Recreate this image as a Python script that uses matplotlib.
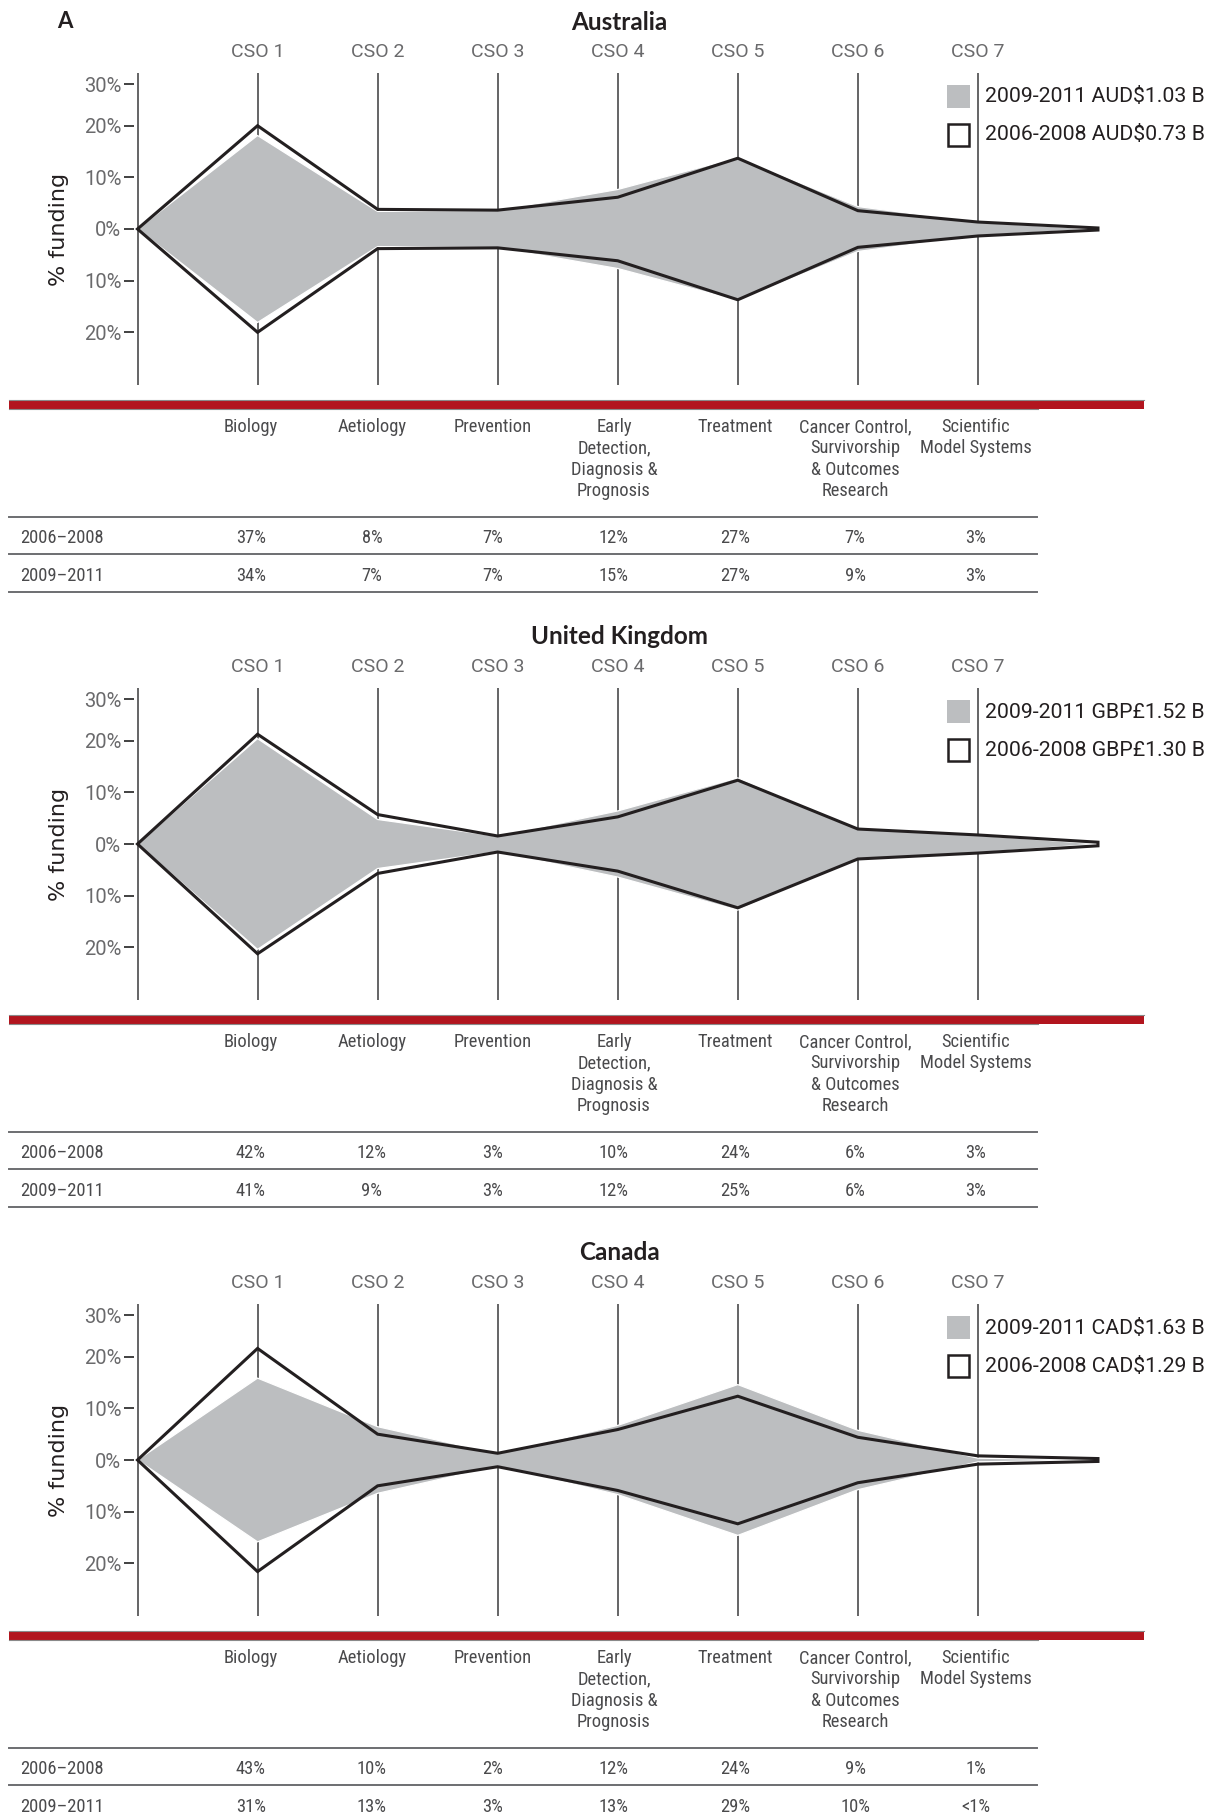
import matplotlib
matplotlib.use("Agg")
import matplotlib.pyplot as plt
from matplotlib import font_manager
from matplotlib.patches import Rectangle
from matplotlib.lines import Line2D

# ---------------- data ----------------
countries = ["Australia", "United Kingdom", "Canada"]
cso_labels = ["CSO 1", "CSO 2", "CSO 3", "CSO 4", "CSO 5", "CSO 6", "CSO 7"]
ytick_vals = [28, 20, 10, 0, -10, -20]
ytick_labels = ["30%", "20%", "10%", "0%", "10%", "20%"]

# half-widths (% funding): origin, CSO1..CSO7, end
au_2006 = [0, 20.0, 3.8, 3.65, 6.15, 13.7, 3.55, 1.35, 0.2]
au_2009 = [0, 18.1, 3.4, 3.6, 7.65, 13.85, 4.35, 1.3, 0]
uk_2006 = [0, 21.25, 5.7, 1.55, 5.25, 12.35, 2.9, 1.75, 0.35]
uk_2009 = [0, 20.4, 4.75, 1.5, 6.4, 12.8, 2.9, 1.7, 0]
ca_2006 = [0, 21.6, 5.0, 1.3, 5.9, 12.35, 4.4, 0.8, 0.28]
ca_2009 = [0, 15.85, 6.45, 1.2, 6.7, 14.6, 5.75, 0.35, 0]

legend_2009 = ["2009-2011 AUD$1.03 B", "2009-2011 GBP£1.52 B", "2009-2011 CAD$1.63 B"]
legend_2006 = ["2006-2008 AUD$0.73 B", "2006-2008 GBP£1.30 B", "2006-2008 CAD$1.29 B"]

categories = ["Biology", "Aetiology", "Prevention",
              "Early\nDetection,\nDiagnosis &\nPrognosis", "Treatment",
              "Cancer Control,\nSurvivorship\n& Outcomes\nResearch",
              "Scientific\nModel Systems"]
row_labels = ["2006\u20132008", "2009\u20132011"]
au_table = [["37%", "8%", "7%", "12%", "27%", "7%", "3%"],
            ["34%", "7%", "7%", "15%", "27%", "9%", "3%"]]
uk_table = [["42%", "12%", "3%", "10%", "24%", "6%", "3%"],
            ["41%", "9%", "3%", "12%", "25%", "6%", "3%"]]
ca_table = [["43%", "10%", "2%", "12%", "24%", "9%", "1%"],
            ["31%", "13%", "3%", "13%", "29%", "10%", "<1%"]]

series_2006 = [au_2006, uk_2006, ca_2006]
series_2009 = [au_2009, uk_2009, ca_2009]
tables = [au_table, uk_table, ca_table]

# ---------------- fonts ----------------
names = {f.name for f in font_manager.fontManager.ttflist}
def pick(cands, default="DejaVu Sans"):
    for c in cands:
        if c in names:
            return c
    return default

light_family = pick(["Roboto", "Open Sans", "Lato"])
reg_family = pick(["Roboto", "Open Sans", "Lato"])
title_family = pick(["Lato", "Open Sans", "Roboto"])
narrow_family = pick(["Liberation Sans Narrow", "Roboto Condensed", "DejaVu Sans"])
narrow_kw = {"family": narrow_family}
if narrow_family == "DejaVu Sans":
    narrow_kw["stretch"] = "condensed"

# ---------------- figure ----------------
W, H = 1219, 1820
fig = plt.figure(figsize=(W / 100, H / 100), dpi=100)
fig.patch.set_facecolor("white")

def fx(x):
    return x / W

def fy(y):
    return 1 - y / H

GRAY = "#BCBEC0"
DARK = "#231F20"
TXT = "#6A6A6C"
RED = "#B2151E"
RULE = "#6D6E71"
TABLE_TXT = "#4A4A4C"

x0_px, step_px = 137.5, 120.06
ax_left_px, ax_right_px = 134, 1150
offsets = [0, 615, 1231]
col_centers = [251, 372, 493, 614, 735, 855, 976]

for i, off in enumerate(offsets):
    top_px, bot_px = off + 73, off + 385
    ax = fig.add_axes([fx(ax_left_px), fy(bot_px), (ax_right_px - ax_left_px) / W,
                       (bot_px - top_px) / H])
    ax.set_xlim((ax_left_px - x0_px) / step_px, (ax_right_px - x0_px) / step_px)
    ax.set_ylim(-30.2, 30.2)
    for s in ax.spines.values():
        s.set_visible(False)
    ax.patch.set_alpha(0)

    xs = list(range(len(series_2006[i])))
    ax.vlines(xs[:-1], -30.2, 30.2, color="#3A3A3C", lw=1.1, zorder=1)

    g = series_2009[i]
    ax.fill(xs + xs[::-1], g + [-v for v in g[::-1]], facecolor=GRAY,
            edgecolor="white", lw=0.9, zorder=2)
    o = series_2006[i]
    ax.fill(xs + xs[::-1], o + [-v for v in o[::-1]], facecolor="none",
            edgecolor=DARK, lw=2.2, joinstyle="miter", zorder=3)

    ax.set_yticks(ytick_vals)
    ax.set_yticklabels(ytick_labels, family=light_family, fontweight="normal",
                       fontsize=14.5, color=TXT)
    ax.tick_params(axis="y", length=7, width=1.3, color="#333333", pad=2)
    ax.set_xticks(xs[1:-1])
    ax.set_xticklabels(cso_labels, family=light_family, fontweight="normal",
                       fontsize=14, color=TXT)
    ax.tick_params(axis="x", top=True, labeltop=True, bottom=False,
                   labelbottom=False, length=0, pad=9)

    fig.text(fx(59), fy(off + 229), "% funding", rotation=90, ha="center",
             va="center", fontsize=16, color=DARK, family="DejaVu Sans")
    fig.text(fx(619.5), fy(off + 22), countries[i], ha="center", va="center",
             fontsize=17.5, fontweight="bold", color=DARK, family=title_family)

    # legend
    fig.patches.append(Rectangle((fx(947), fy(off + 108)), 23 / W, 23 / H,
                                 transform=fig.transFigure, facecolor=GRAY,
                                 edgecolor="none"))
    fig.patches.append(Rectangle((fx(948), fy(off + 146)), 21 / W, 22 / H,
                                 transform=fig.transFigure, facecolor="white",
                                 edgecolor=DARK, lw=1.8))
    fig.text(fx(985), fy(off + 97), legend_2009[i], ha="left", va="center",
             fontsize=15.3, color=DARK, family=reg_family)
    fig.text(fx(985), fy(off + 135), legend_2006[i], ha="left", va="center",
             fontsize=15.3, color=DARK, family=reg_family)

    # red separator bar
    fig.add_artist(Line2D([fx(9), fx(1144)], [fy(off + 400), fy(off + 400)],
                          color="#8A8A8A", lw=0.8))
    fig.patches.append(Rectangle((fx(9), fy(off + 408.5)), (1144 - 9) / W, 8 / H,
                                 transform=fig.transFigure, facecolor=RED,
                                 edgecolor="none"))
    fig.add_artist(Line2D([fx(9), fx(1038)], [fy(off + 409), fy(off + 409)],
                          color="#8A8A8A", lw=0.8))

    # table
    for c, cat in enumerate(categories):
        fig.text(fx(col_centers[c]), fy(off + 418), cat, ha="center", va="top",
                 fontsize=13.3, color=TABLE_TXT, linespacing=1.24, **narrow_kw)
    for r_y in (517, 554, 592):
        fig.add_artist(Line2D([fx(9), fx(1037)], [fy(off + r_y), fy(off + r_y)],
                              color=RULE, lw=1.4))
    for r, (lab, ry) in enumerate(zip(row_labels, (538, 576))):
        fig.text(fx(20), fy(off + ry), lab, ha="left", va="center", fontsize=13.3,
                 color=TABLE_TXT, **narrow_kw)
        for c, val in enumerate(tables[i][r]):
            fig.text(fx(col_centers[c]), fy(off + ry), val, ha="center",
                     va="center", fontsize=13.3, color=TABLE_TXT, **narrow_kw)

fig.text(fx(65), fy(22), "A", ha="center", va="center", fontsize=16,
         fontweight="bold", color=DARK, family=title_family)

fig.savefig("out.png", dpi=100, facecolor="white")
